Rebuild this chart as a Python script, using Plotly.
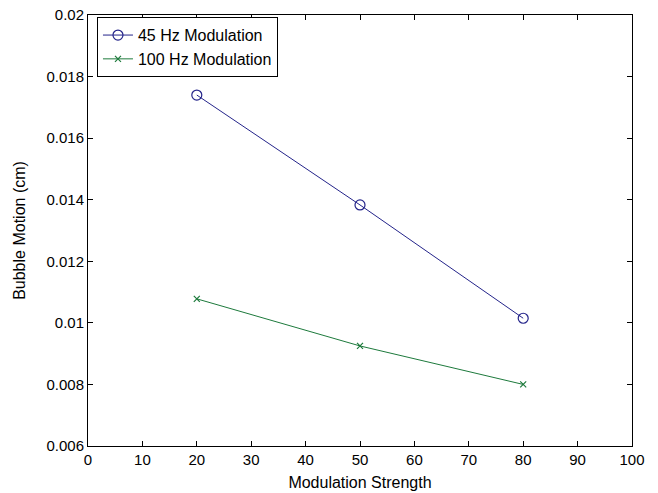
import plotly.graph_objects as go

strength = [20, 50, 80]
motion_45 = [0.0174, 0.01383, 0.01015]
motion_100 = [0.01078, 0.00925, 0.00800]

x_ticks = [0, 10, 20, 30, 40, 50, 60, 70, 80, 90, 100]
y_ticks = [0.006, 0.008, 0.010, 0.012, 0.014, 0.016, 0.018, 0.020]
y_tick_labels = ["0.006", "0.008", "0.01", "0.012", "0.014", "0.016", "0.018", "0.02"]

FONT = "Liberation Sans, Arial, sans-serif"

fig = go.Figure()
fig.add_trace(go.Scatter(
    x=strength, y=motion_45, mode="lines+markers", name="45 Hz Modulation",
    line=dict(color="#24248a", width=1),
    marker=dict(symbol="circle-open", size=10, color="#24248a", line=dict(width=1.2)),
))
fig.add_trace(go.Scatter(
    x=strength, y=motion_100, mode="lines+markers", name="100 Hz Modulation",
    line=dict(color="#1d7a3c", width=1),
    marker=dict(symbol="x-thin-open", size=6, color="#1d7a3c", line=dict(width=1.2, color="#1d7a3c")),
))

axis_common = dict(
    showline=True, linecolor="black", linewidth=1, mirror="ticks",
    ticks="inside", ticklen=5, tickcolor="black", showgrid=False, zeroline=False,
    automargin=False, ticklabeloverflow="allow",
    tickfont=dict(family=FONT, size=15, color="black"),
)

fig.update_layout(
    width=658, height=493,
    paper_bgcolor="white", plot_bgcolor="white",
    margin=dict(l=88, r=26, t=15, b=47, pad=0),
    font=dict(family=FONT, size=15, color="black"),
    showlegend=True,
    legend=dict(
        x=0.0165, y=0.995, xanchor="left", yanchor="top",
        bordercolor="black", borderwidth=1, bgcolor="white",
        font=dict(size=16), tracegroupgap=0,
        entrywidth=160, entrywidthmode="pixels",
    ),
    xaxis=dict(range=[0, 100], tickvals=x_ticks,
               title=dict(text="Modulation Strength", standoff=9, font=dict(size=16)),
               **axis_common),
    yaxis=dict(range=[0.006, 0.020], tickvals=y_ticks, ticktext=y_tick_labels,
               title=dict(text="Bubble Motion (cm)", standoff=16, font=dict(size=16)),
               **axis_common),
)

fig.write_html("out.html", config={"displayModeBar": False},
               post_script="document.body.style.margin='0';")
